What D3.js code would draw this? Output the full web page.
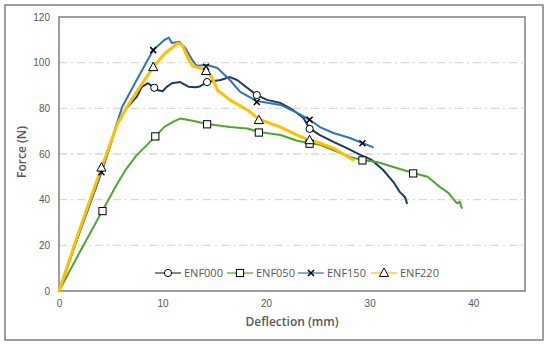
<!DOCTYPE html>
<html>
<head>
<meta charset="utf-8">
<script src="https://cdn.jsdelivr.net/npm/d3@7"></script>
<style>
  body { margin: 0; background: #fff; }
  svg { font-family: "Open Sans", "Noto Sans", sans-serif; }
</style>
</head>
<body>
<svg id="chart" width="550" height="347"></svg>
<script>
// Curves: [deflection mm, force N]
const enf000 = [[0,0],[2,26],[4.1,52],[5.6,73],[6.5,80],[7.5,85],[8,89.4],[8.6,91],[9.2,89],[9.5,88],[10,87.5],[10.4,89.4],[10.9,91],[11.7,91.5],[12.5,89.5],[13.2,89.2],[13.6,89.6],[14.3,91.5],[15.6,92.4],[16.5,93.7],[17.2,92.4],[18.2,88.9],[19.1,85.8],[20.1,83.7],[21.4,82.3],[22.6,79.3],[23.6,75.8],[24.2,71.2],[25.2,68.3],[26.5,65.3],[27.8,62.6],[29.1,59.6],[30.2,57.4],[31.3,53],[32.3,47.7],[32.9,43.4],[33.4,41.2],[33.5,40],[33.6,38.5]];
const enf050 = [[0,0],[2,17],[4.2,35.3],[5.5,46],[6.5,53.5],[7.5,59.5],[8.5,64],[9.3,67.7],[10.2,72],[11.2,74.5],[11.7,75.5],[12.1,75.2],[12.9,74.6],[14.3,73.1],[16.5,71.8],[18.2,71.2],[19.3,69.6],[21.4,68.3],[23,65.8],[24.2,64.8],[25.2,64],[26.9,60.9],[28.1,58.7],[29.3,57.4],[30.7,56.5],[32.3,54.3],[34.2,51.7],[35.6,50],[36.8,45.5],[37.6,43],[38.3,39],[38.5,38.4],[38.7,39.2],[38.9,36.4]];
const enf150 = [[0,0],[2,26],[4.1,52],[5.6,73.5],[6.1,80.6],[7.5,92.4],[9.1,105.5],[10.2,110],[10.6,111],[10.9,108.6],[11.6,109.2],[12.2,106.4],[12.9,101],[13.3,98.6],[14.3,99],[15.3,97.7],[16.5,92.4],[17.5,87.2],[19.1,83.2],[21.4,81.5],[23,78],[24.2,75],[25.2,71.8],[26.5,69.2],[28.1,67],[29.3,64.8],[30.3,63]];
const enf220 = [[0,0],[2,27],[4.1,54],[5.6,72.7],[6.4,79.5],[7.6,88],[9.1,98],[10.2,104],[11.5,108.6],[11.9,107.7],[12.4,102.5],[12.9,98.5],[13.5,97.8],[14.2,96.8],[14.8,93.3],[15.3,88],[16.5,83.7],[18.2,79.3],[19.3,75.3],[21.4,71.8],[23,68.3],[24.2,66],[25.2,64.8],[26.5,62.6],[28.4,57.4]];

// Marker points
const enf000Marks = [[9.2,89],[14.3,91.5],[19.1,85.8],[24.2,71]];
const enf050Marks = [[4.2,35],[9.3,67.7],[14.3,73],[19.3,69.4],[24.2,64.5],[29.3,57.2],[34.2,51.5]];
const enf150Marks = [[4.1,52],[9.1,105.5],[14.2,98.2],[19.1,82.8],[24.2,75],[29.3,64.7]];
const enf220Marks = [[4.1,54],[9.1,98],[14.2,96.3],[19.3,74.8],[24.2,66]];

const seriesNames = ["ENF000", "ENF050", "ENF150", "ENF220"];
const xTicks = [0, 10, 20, 30, 40];
const yTicks = [0, 20, 40, 60, 80, 100, 120];

const colors = ["#1f3864", "#4ea72e", "#2e75b6", "#ffc000"];
const widths = [2, 2, 2, 3];
const shapes = ["circle", "square", "cross", "triangle"];

const svg = d3.select("#chart");
const margin = { top: 17, right: 25, bottom: 56, left: 59 };
const width = 550 - margin.left - margin.right;
const height = 347 - margin.top - margin.bottom;

// outer frame
svg.append("rect")
  .attr("x", 5).attr("y", 5).attr("width", 538).attr("height", 335)
  .attr("fill", "#fff").attr("stroke", "#7f7f7f").attr("stroke-width", 1.5);

const xScale = d3.scaleLinear().domain([0, 45]).range([0, width]);
const yScale = d3.scaleLinear().domain([0, 120]).range([height, 0]);

const g = svg.append("g").attr("transform", `translate(${margin.left}, ${margin.top})`);

// gridlines (dash-dot)
g.selectAll(".grid")
  .data(yTicks.filter(d => d > 0 && d < 120))
  .enter().append("line")
  .attr("x1", 0).attr("x2", width)
  .attr("y1", d => yScale(d)).attr("y2", d => yScale(d))
  .attr("stroke", "#d9d9d9").attr("stroke-width", 1.3)
  .attr("stroke-dasharray", "8,4,2,4");

// axes (labels only)
const xAxis = d3.axisBottom(xScale).tickValues(xTicks).tickSize(0).tickPadding(9);
const yAxis = d3.axisLeft(yScale).tickValues(yTicks).tickSize(0).tickPadding(9);

g.append("g").attr("transform", `translate(0, ${height})`).call(xAxis)
  .call(a => a.select(".domain").remove())
  .selectAll("text").attr("fill", "#595959").style("font-size", "10px");
g.append("g").call(yAxis)
  .call(a => a.select(".domain").remove())
  .selectAll("text").attr("fill", "#595959").style("font-size", "10px");

// plot frame
g.append("rect")
  .attr("width", width).attr("height", height)
  .attr("fill", "none").attr("stroke", "#7f7f7f").attr("stroke-width", 1.5);

const line = d3.line().x(d => xScale(d[0])).y(d => yScale(d[1]));

const curves = [enf000, enf050, enf150, enf220];
const marks = [enf000Marks, enf050Marks, enf150Marks, enf220Marks];

function drawMarker(sel, shape, x, y) {
  if (shape === "circle") {
    sel.append("circle").attr("cx", x).attr("cy", y).attr("r", 3.6)
      .attr("fill", "#fff").attr("stroke", "#000").attr("stroke-width", 1);
  } else if (shape === "square") {
    sel.append("rect").attr("x", x - 3.6).attr("y", y - 3.6).attr("width", 7.2).attr("height", 7.2)
      .attr("fill", "#fff").attr("stroke", "#000").attr("stroke-width", 1);
  } else if (shape === "cross") {
    sel.append("path").attr("d", `M${x-3},${y-3}L${x+3},${y+3}M${x-3},${y+3}L${x+3},${y-3}`)
      .attr("stroke", "#000").attr("stroke-width", 1.5);
  } else {
    sel.append("path").attr("d", `M${x},${y-5}L${x+4.6},${y+3.4}L${x-4.6},${y+3.4}Z`)
      .attr("fill", "#fff").attr("stroke", "#000").attr("stroke-width", 1);
  }
}

curves.forEach((c, i) => {
  g.append("path").datum(c).attr("d", line)
    .attr("fill", "none").attr("stroke", colors[i]).attr("stroke-width", widths[i])
    .attr("stroke-linejoin", "round").attr("stroke-linecap", "round");
});

marks.forEach((m, i) => {
  const mg = g.append("g");
  m.forEach(d => drawMarker(mg, shapes[i], xScale(d[0]), yScale(d[1])));
});

// legend
const legendX = [155, 227, 298, 371];
const legend = svg.append("g");
seriesNames.forEach((name, i) => {
  const lx = legendX[i], ly = 273;
  legend.append("line").attr("x1", lx).attr("x2", lx + 26).attr("y1", ly).attr("y2", ly)
    .attr("stroke", colors[i]).attr("stroke-width", 1.2);
  drawMarker(legend, shapes[i], lx + 13, ly);
  legend.append("text").attr("x", lx + 29).attr("y", ly + 4)
    .attr("fill", "#595959").style("font-size", "11px").text(name);
});

// titles
svg.append("text")
  .attr("x", margin.left + width / 2).attr("y", 326)
  .attr("text-anchor", "middle").attr("fill", "#595959")
  .style("font-size", "12px").style("font-weight", "600")
  .text("Deflection (mm)");

svg.append("text")
  .attr("transform", "translate(26, 152) rotate(-90)")
  .attr("text-anchor", "middle").attr("fill", "#595959")
  .style("font-size", "12px").style("font-weight", "600")
  .text("Force (N)");
</script>
</body>
</html>
